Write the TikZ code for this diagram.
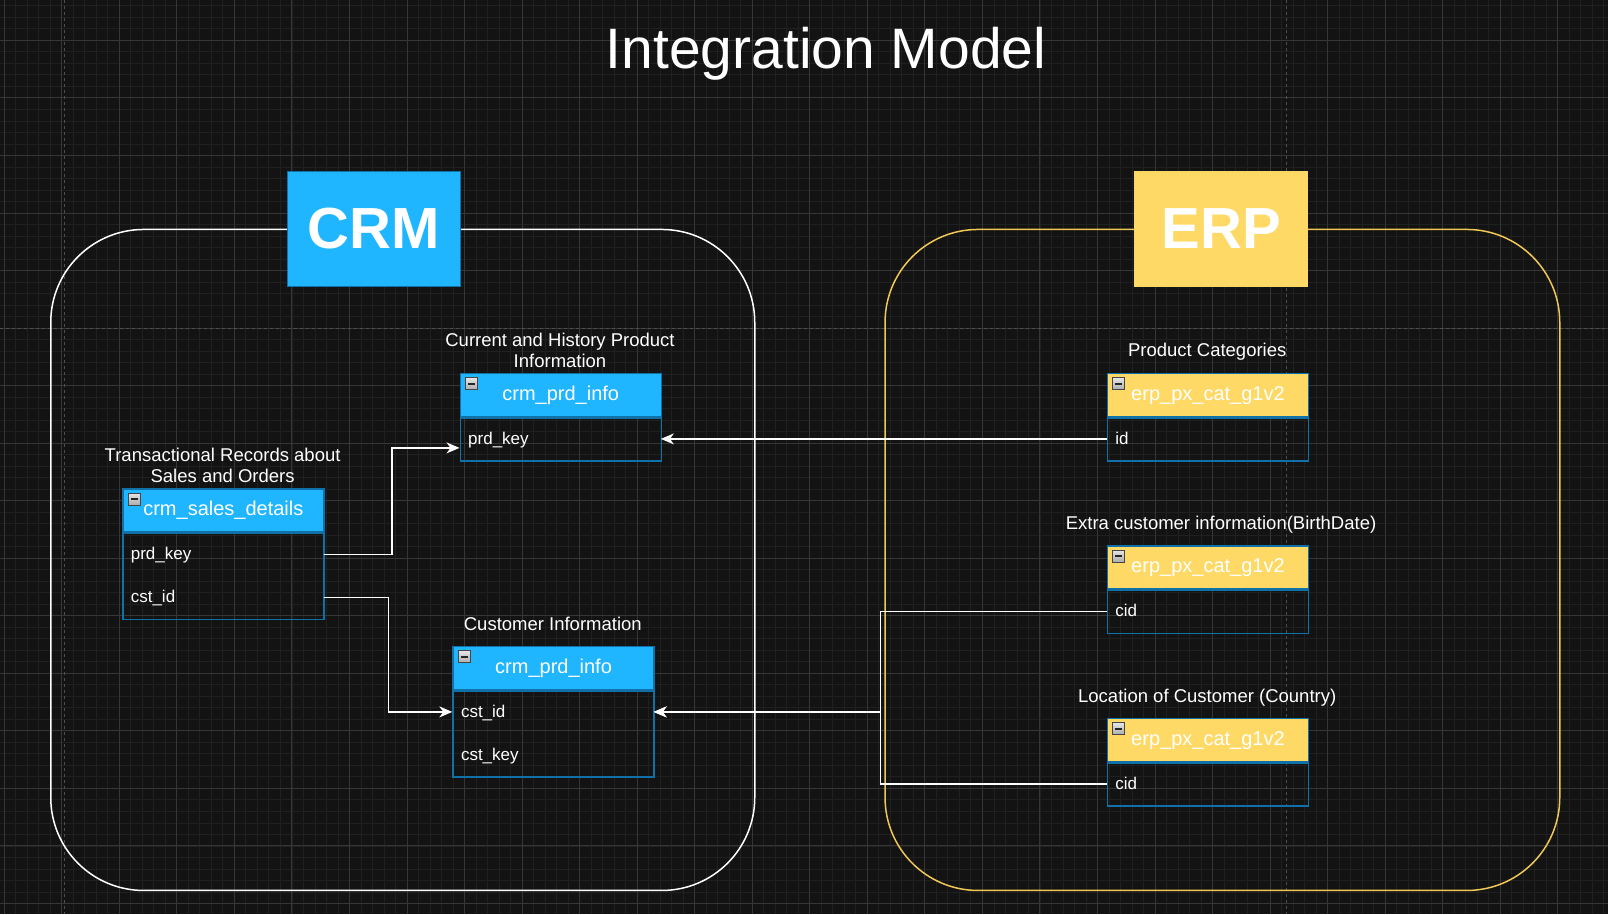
\documentclass[tikz,border=0pt]{standalone}
\usepackage{fontspec}
\setmainfont{Liberation Sans}
\usetikzlibrary{arrows.meta,calc}
\definecolor{bg}{RGB}{19,19,19}
\definecolor{gridminor}{RGB}{32,32,32}
\definecolor{gridmajor}{RGB}{54,54,54}
\definecolor{pagedash}{RGB}{78,78,78}
\definecolor{crmblue}{RGB}{31,181,255}
\definecolor{tblborder}{RGB}{16,112,168}
\definecolor{erpyellow}{RGB}{255,217,102}
\definecolor{erpframe}{RGB}{240,200,85}
\begin{document}
\begin{tikzpicture}[x=1pt,y=-1pt,
  minorgrid/.style={draw=gridminor,line width=0.8pt},
  majorgrid/.style={draw=gridmajor,line width=0.9pt},
  pageline/.style={draw=pagedash,line width=1pt,dash pattern=on 3pt off 3pt},
  frame/.style={rounded corners=93pt,line width=1.5pt,anchor=north west,inner sep=0pt,minimum height=661pt},
  bigbox/.style={minimum width=173pt,minimum height=115pt,inner sep=0pt,line width=1pt,text=white,font=\bfseries\fontsize{58}{60}\selectfont},
  hdr/.style={anchor=north west,minimum width=201pt,minimum height=43pt,inner sep=0pt,draw=tblborder,line width=1.5pt,text=white,font=\fontsize{20}{24}\selectfont,text height=14pt,text depth=3pt},
  crmhdr/.style={hdr,fill=crmblue},
  erphdr/.style={hdr,fill=erpyellow},
  tbody/.style={anchor=north west,minimum width=201pt,inner sep=0pt,draw=tblborder,line width=1.5pt},
  row/.style={anchor=north west,minimum height=43pt,inner xsep=8.5pt,inner ysep=0pt,text width=184pt,align=left,text=white,font=\fontsize{17}{20}\selectfont,text height=12.5pt,text depth=2pt},
  icon/.style={minimum size=12pt,inner sep=0pt,draw=gray!55!black,line width=0.6pt,top color=gray!20,bottom color=gray!65,
    path picture={\draw[line width=1.8pt,black!85] ([xshift=2.5pt]path picture bounding box.west) -- ([xshift=-2.5pt]path picture bounding box.east);}},
  lbl/.style={inner sep=0pt,text=white,align=center,font=\fontsize{18.5}{21.5}\selectfont},
  conn/.style={draw=white,line width=1.4pt},
  arr/.style={conn,-{Stealth[length=13pt,width=11pt,inset=4pt]}}
]
% background
\fill[bg] (0,0) rectangle (1608,914);
\useasboundingbox (0,0) rectangle (1608,914);
% grid
\foreach \i in {0,...,139} {\draw[minorgrid] ({4.2+11.508*\i},0) -- ({4.2+11.508*\i},914);}
\foreach \k in {2,...,80} {\draw[minorgrid] (0,{-17.2+11.508*\k}) -- (1608,{-17.2+11.508*\k});}
\foreach \m in {0,...,27} {\draw[majorgrid] ({4.2+57.54*\m},0) -- ({4.2+57.54*\m},914);}
\foreach \m in {1,...,16} {\draw[majorgrid] (0,{-17.2+57.54*\m}) -- (1608,{-17.2+57.54*\m});}
% page break lines
\draw[pageline] (64.3,0) -- (64.3,914);
\draw[pageline] (1286.7,0) -- (1286.7,914);
\draw[pageline] (0,328.7) -- (1608,328.7);

% title
\node[anchor=base,inner sep=0pt,text=white,font=\fontsize{57}{60}\selectfont] (title) at (826,68.3) {Integration Model};

% containers
\node[frame,draw=white,minimum width=704pt] (crmf) at (50,228.7) {};
\node[frame,draw=erpframe,minimum width=674.7pt] (erpf) at (884.3,228.7) {};

% big labels
\node[bigbox,fill=crmblue,draw=tblborder] (crm) at (373.5,228.5) {CRM};
\node[bigbox,fill=erpyellow,draw=erpyellow] (erp) at (1221.4,228.5) {ERP};

% crm_prd_info (product)
\node[lbl,anchor=north] (t1l) at (560,332.5) {Current and History Product\\Information};
\node[crmhdr] (t1h) at (459.5,372.7) {crm\_prd\_info};
\node[tbody,minimum height=43pt] (t1b) at (t1h.south west) {};
\node[row] (t1prd) at (t1b.north west) {prd\_key};
\node[icon] (t1i) at ($(t1h.north west)+(12,11)$) {};

% crm_sales_details
\node[lbl,anchor=north] (t2l) at (222.6,447.5) {Transactional Records about\\Sales and Orders};
\node[crmhdr] (t2h) at (122.1,488) {crm\_sales\_details};
\node[tbody,minimum height=86pt] (t2b) at (t2h.south west) {};
\node[row] (t2prd) at (t2b.north west) {prd\_key};
\node[row] (t2cst) at ($(t2b.north west)+(0,43)$) {cst\_id};
\node[icon] (t2i) at ($(t2h.north west)+(12,11)$) {};

% crm_prd_info (customer)
\node[lbl,anchor=base] (t3l) at (552.8,630) {Customer Information};
\node[crmhdr] (t3h) at (452.3,645.7) {crm\_prd\_info};
\node[tbody,minimum height=86pt] (t3b) at (t3h.south west) {};
\node[row] (t3id) at (t3b.north west) {cst\_id};
\node[row] (t3key) at ($(t3b.north west)+(0,43)$) {cst\_key};
\node[icon] (t3i) at ($(t3h.north west)+(12,11)$) {};

% ERP tables
\node[lbl,anchor=base] (e1l) at (1207.2,356.7) {Product Categories};
\node[erphdr] (e1h) at (1106.7,372.7) {erp\_px\_cat\_g1v2};
\node[tbody,minimum height=43pt] (e1b) at (e1h.south west) {};
\node[row] (e1id) at (e1b.north west) {id};
\node[icon] (e1i) at ($(e1h.north west)+(12,11)$) {};

\node[lbl,anchor=base] (e2l) at (1221,529.3) {Extra customer information(BirthDate)};
\node[erphdr] (e2h) at (1106.7,545) {erp\_px\_cat\_g1v2};
\node[tbody,minimum height=43pt] (e2b) at (e2h.south west) {};
\node[row] (e2cid) at (e2b.north west) {cid};
\node[icon] (e2i) at ($(e2h.north west)+(12,11)$) {};

\node[lbl,anchor=base] (e3l) at (1207.2,702.3) {Location of Customer (Country)};
\node[erphdr] (e3h) at (1106.7,717.7) {erp\_px\_cat\_g1v2};
\node[tbody,minimum height=43pt] (e3b) at (e3h.south west) {};
\node[row] (e3cid) at (e3b.north west) {cid};
\node[icon] (e3i) at ($(e3h.north west)+(12,11)$) {};

% connectors
\draw[arr] (t2prd.east) -- ++(68.3,0) |- ($(t1prd.west)+(0,9)$);
\draw[arr] (t2cst.east) -- ++(65,0) |- (t3id.west);
\draw[arr] (e1id.west) -- (t1prd.east);
\draw[arr] (e2cid.west) -- ++(-226,0) |- (t3id.east);
\draw[arr] (e3cid.west) -- ++(-226,0) |- (t3id.east);
\end{tikzpicture}
\end{document}
